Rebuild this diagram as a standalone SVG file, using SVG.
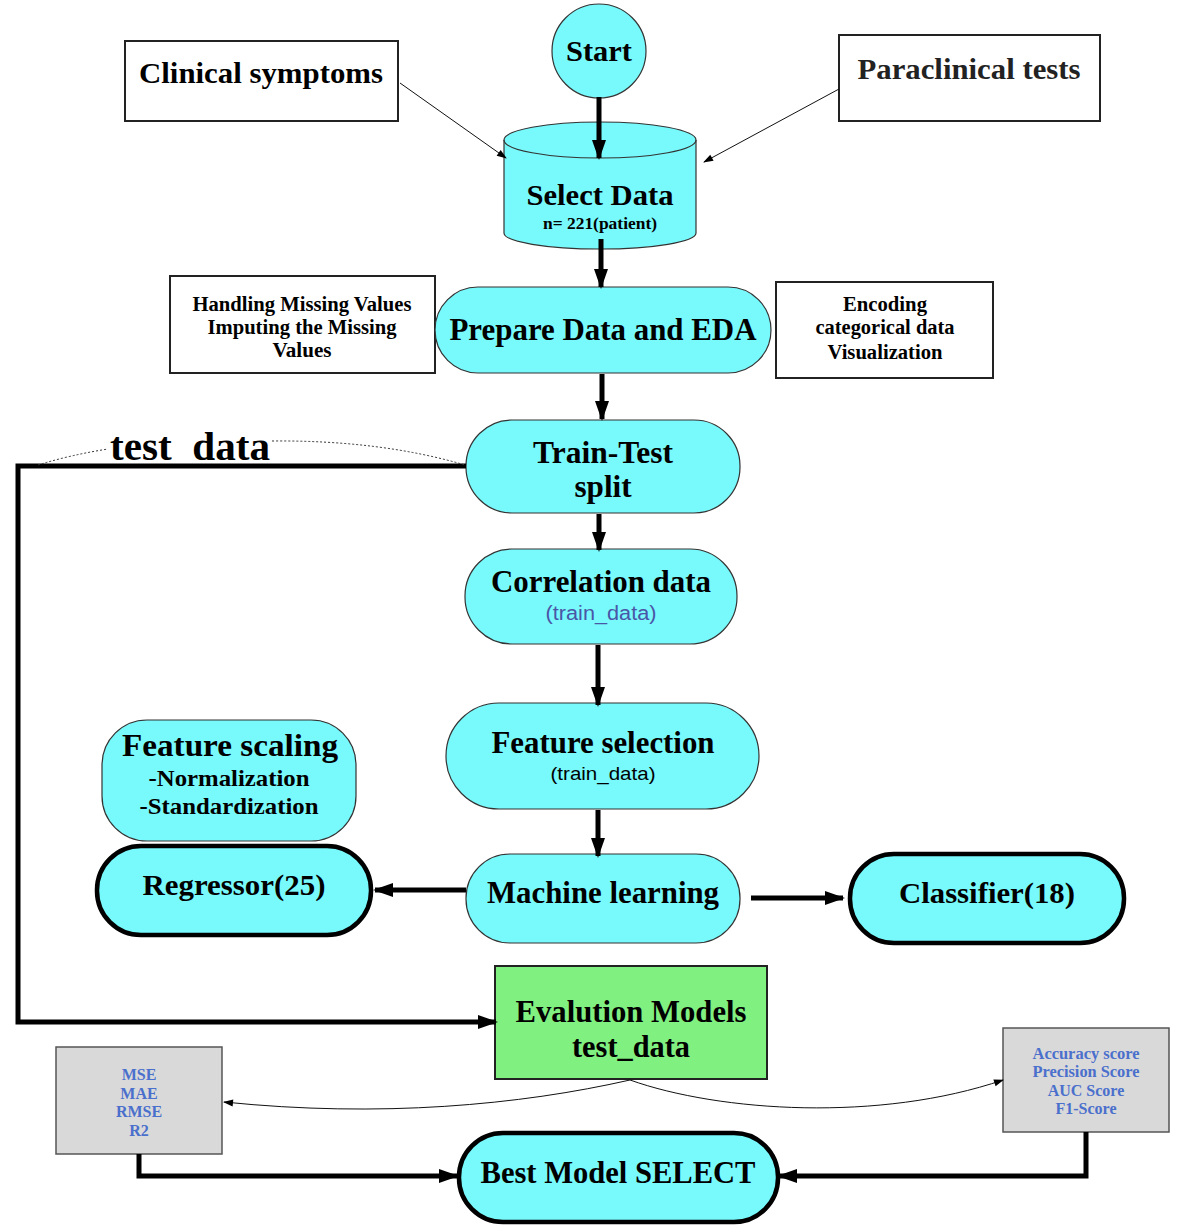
<svg xmlns="http://www.w3.org/2000/svg" width="1194" height="1230" viewBox="0 0 1194 1230">
  <style>
    .t { font-family: "Liberation Serif", "Times New Roman", serif; font-weight: bold; fill: #000; text-anchor: middle; }
    .s { font-family: "Liberation Sans", Arial, sans-serif; text-anchor: middle; }
    .cy { fill: #78f9fc; stroke: #333; stroke-width: 1.2; }
    .cyb { fill: #78f9fc; stroke: #000; stroke-width: 4.5; }
    .box { fill: #fff; stroke: #222; stroke-width: 2; }
    .grey { fill: #d9d9d9; stroke: #555; stroke-width: 1.5; }
    .m { fill: #4a6fcc; font-size: 16px; }
    .thick { fill: none; stroke: #000; stroke-width: 5; }
    .thin { fill: none; stroke: #111; stroke-width: 1; }
  </style>
  <defs>
    <marker id="ah" viewBox="0 0 10 10" refX="9" refY="5" markerWidth="4" markerHeight="4" orient="auto" markerUnits="strokeWidth">
      <path d="M0,1.5 L10,5 L0,8.5 z" fill="#000"/>
    </marker>
    <marker id="ahs" viewBox="0 0 10 10" refX="9" refY="5" markerWidth="14" markerHeight="10" orient="auto" markerUnits="userSpaceOnUse">
      <path d="M0,1.5 L10,5 L0,8.5 z" fill="#000"/>
    </marker>
  </defs>

  <rect width="1194" height="1230" fill="#fff"/>

  <g id="start">
    <circle class="cy" cx="599" cy="51" r="47"/>
    <text class="t" x="599" y="61" font-size="30" textLength="66" lengthAdjust="spacingAndGlyphs">Start</text>
  </g>

  <g id="clinical">
    <rect class="box" x="125" y="41" width="273" height="80"/>
    <text class="t" x="261" y="83" font-size="29" textLength="244" lengthAdjust="spacingAndGlyphs">Clinical symptoms</text>
  </g>

  <g id="paraclinical">
    <rect class="box" x="839" y="35" width="261" height="86"/>
    <text class="t" x="969" y="79" font-size="29" style="fill:#222" textLength="223" lengthAdjust="spacingAndGlyphs">Paraclinical tests</text>
  </g>

  <g id="select-data">
    <path class="cy" d="M504,140 L504,233 A96,16 0 0 0 696,233 L696,140 A96,18 0 0 0 504,140 Z"/>
    <path d="M504,140 A96,18 0 0 0 696,140" fill="none" stroke="#333" stroke-width="1.2"/>
    <text class="t" x="600" y="205" font-size="29" textLength="147" lengthAdjust="spacingAndGlyphs">Select Data</text>
    <text class="t" x="600" y="229" font-size="16" textLength="114" lengthAdjust="spacingAndGlyphs">n= 221(patient)</text>
  </g>

  <g id="missing">
    <rect class="box" x="170" y="276" width="265" height="97"/>
    <text class="t" x="302" y="311" font-size="20" textLength="219" lengthAdjust="spacingAndGlyphs">Handling Missing Values</text>
    <text class="t" x="302" y="334" font-size="20" textLength="189" lengthAdjust="spacingAndGlyphs">Imputing the Missing</text>
    <text class="t" x="302" y="357" font-size="20" textLength="59" lengthAdjust="spacingAndGlyphs">Values</text>
  </g>

  <g id="prepare">
    <rect class="cy" x="435" y="287" width="336" height="86" rx="43"/>
    <text class="t" x="603" y="340" font-size="31" textLength="307" lengthAdjust="spacingAndGlyphs">Prepare Data and EDA</text>
  </g>

  <g id="encoding">
    <rect class="box" x="776" y="282" width="217" height="96"/>
    <text class="t" x="885" y="311" font-size="20" textLength="84" lengthAdjust="spacingAndGlyphs">Encoding</text>
    <text class="t" x="885" y="334" font-size="20" textLength="139" lengthAdjust="spacingAndGlyphs">categorical data</text>
    <text class="t" x="885" y="359" font-size="20" textLength="115" lengthAdjust="spacingAndGlyphs">Visualization</text>
  </g>

  <g id="train-test">
    <rect class="cy" x="466" y="420" width="274" height="93" rx="46"/>
    <text class="t" x="603" y="463" font-size="31" textLength="140" lengthAdjust="spacingAndGlyphs">Train-Test</text>
    <text class="t" x="603" y="497" font-size="31" textLength="57" lengthAdjust="spacingAndGlyphs">split</text>
  </g>

  <g id="correlation">
    <rect class="cy" x="465" y="549" width="272" height="95" rx="47"/>
    <text class="t" x="601" y="592" font-size="31" textLength="220" lengthAdjust="spacingAndGlyphs">Correlation data</text>
    <text class="s" x="601" y="620" font-size="20" fill="#4a56a6" textLength="111" lengthAdjust="spacingAndGlyphs">(train_data)</text>
  </g>

  <g id="feature-selection">
    <rect class="cy" x="446" y="703" width="313" height="106" rx="53"/>
    <text class="t" x="603" y="753" font-size="31" textLength="223" lengthAdjust="spacingAndGlyphs">Feature selection</text>
    <text class="s" x="603" y="780" font-size="19" fill="#000" textLength="105" lengthAdjust="spacingAndGlyphs">(train_data)</text>
  </g>

  <g id="feature-scaling">
    <rect class="cy" x="102" y="720" width="254" height="121" rx="45"/>
    <text class="t" x="230" y="756" font-size="32" textLength="216" lengthAdjust="spacingAndGlyphs">Feature scaling</text>
    <text class="t" x="229" y="786" font-size="24" textLength="161" lengthAdjust="spacingAndGlyphs">-Normalization</text>
    <text class="t" x="229" y="814" font-size="24" textLength="179" lengthAdjust="spacingAndGlyphs">-Standardization</text>
  </g>

  <g id="regressor">
    <rect class="cyb" x="97" y="846" width="274" height="89" rx="44"/>
    <text class="t" x="234" y="895" font-size="30" textLength="183" lengthAdjust="spacingAndGlyphs">Regressor(25)</text>
  </g>

  <g id="machine-learning">
    <rect class="cy" x="466" y="854" width="274" height="89" rx="44"/>
    <text class="t" x="603" y="903" font-size="31" textLength="232" lengthAdjust="spacingAndGlyphs">Machine learning</text>
  </g>

  <g id="classifier">
    <rect class="cyb" x="850" y="854" width="274" height="89" rx="44"/>
    <text class="t" x="987" y="903" font-size="30" textLength="176" lengthAdjust="spacingAndGlyphs">Classifier(18)</text>
  </g>

  <g id="evaluation">
    <rect x="495" y="966" width="272" height="113" fill="#80f080" stroke="#222" stroke-width="2"/>
    <text class="t" x="631" y="1022" font-size="31" textLength="231" lengthAdjust="spacingAndGlyphs">Evalution Models</text>
    <text class="t" x="631" y="1057" font-size="31" textLength="118" lengthAdjust="spacingAndGlyphs">test_data</text>
  </g>

  <g id="regression-metrics">
    <rect class="grey" x="56" y="1047" width="166" height="107"/>
    <text class="t m" x="139" y="1080">MSE</text>
    <text class="t m" x="139" y="1099">MAE</text>
    <text class="t m" x="139" y="1117">RMSE</text>
    <text class="t m" x="139" y="1136">R2</text>
  </g>

  <g id="classification-metrics">
    <rect class="grey" x="1003" y="1028" width="166" height="104"/>
    <text class="t m" x="1086" y="1059" textLength="107" lengthAdjust="spacingAndGlyphs">Accuracy score</text>
    <text class="t m" x="1086" y="1077" textLength="107" lengthAdjust="spacingAndGlyphs">Precision Score</text>
    <text class="t m" x="1086" y="1096">AUC Score</text>
    <text class="t m" x="1086" y="1114">F1-Score</text>
  </g>

  <g id="best-model">
    <rect class="cyb" x="459" y="1133" width="319" height="89" rx="44"/>
    <text class="t" x="618" y="1183" font-size="31" textLength="275" lengthAdjust="spacingAndGlyphs">Best Model SELECT</text>
  </g>

  <!-- connectors, drawn last so the arrowheads sit on top of the nodes -->
  <g id="connectors">
    <line class="thick" x1="599" y1="97" x2="599" y2="158" marker-end="url(#ah)"/>
    <line class="thin" x1="400" y1="83" x2="506" y2="158" marker-end="url(#ahs)"/>
    <line class="thin" x1="839" y1="89" x2="704" y2="162" marker-end="url(#ahs)"/>
    <line class="thick" x1="601" y1="239" x2="601" y2="287" marker-end="url(#ah)"/>
    <line class="thick" x1="602" y1="374" x2="602" y2="419" marker-end="url(#ah)"/>
    <line class="thick" x1="599" y1="514" x2="599" y2="550" marker-end="url(#ah)"/>
    <line class="thick" x1="598" y1="645" x2="598" y2="705" marker-end="url(#ah)"/>
    <line class="thick" x1="598" y1="810" x2="598" y2="856" marker-end="url(#ah)"/>
    <line class="thick" x1="466" y1="890" x2="375" y2="890" marker-end="url(#ah)"/>
    <line class="thick" x1="751" y1="898" x2="843" y2="898" marker-end="url(#ah)"/>
    <!-- test data path -->
    <polyline class="thick" points="466,466 18,466 18,1022 496,1022" marker-end="url(#ah)"/>
    <path d="M38,465 Q70,455 108,449" fill="none" stroke="#333" stroke-width="1" stroke-dasharray="2,2"/>
    <path d="M272,441 Q380,440 465,465" fill="none" stroke="#333" stroke-width="1" stroke-dasharray="2,2"/>
    <text class="t" x="190" y="460" font-size="40" xml:space="preserve" style="white-space:pre" textLength="160" lengthAdjust="spacingAndGlyphs">test  data</text>
    <!-- metric curves -->
    <path class="thin" d="M630,1080 C520,1105 380,1118 224,1102" stroke-width="1.5" marker-end="url(#ahs)"/>
    <path class="thin" d="M630,1080 C720,1112 880,1122 1003,1080" stroke-width="1.5" marker-end="url(#ahs)"/>
    <polyline class="thick" points="139,1154 139,1176 457,1176" marker-end="url(#ah)"/>
    <polyline class="thick" points="1086,1132 1086,1176 779,1176" marker-end="url(#ah)"/>
  </g>
</svg>
